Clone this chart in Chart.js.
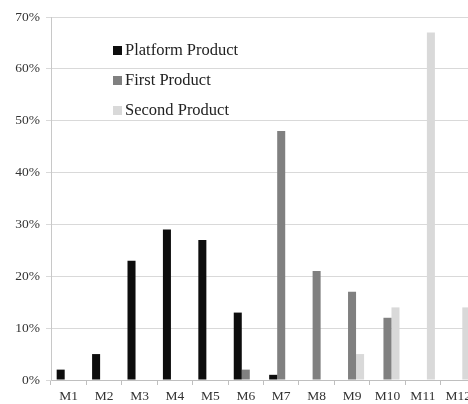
<!DOCTYPE html>
<html>
<head>
<meta charset="utf-8">
<script src="https://cdn.jsdelivr.net/npm/chart.js@4.4.1/dist/chart.umd.min.js"></script>
<style>
    html, body { margin: 0; padding: 0; background: #fff; overflow: hidden; }
    #wrap { width: 476px; height: 404px; position: relative; }
</style>
</head>
<body>
<div id="wrap"><canvas id="salesChart"></canvas></div>
<script>
// Chart data
const months = ['M1', 'M2', 'M3', 'M4', 'M5', 'M6', 'M7', 'M8', 'M9', 'M10', 'M11', 'M12'];
const seriesNames = ['Platform Product', 'First Product', 'Second Product'];
const platformProduct = [2, 5, 23, 29, 27, 13, 1, 0, 0, 0, 0, 0];
const firstProduct = [0, 0, 0, 0, 0, 2, 48, 21, 17, 12, 0, 0];
const secondProduct = [0, 0, 0, 0, 0, 0, 0, 0, 5, 14, 67, 14];
const yTicks = [0, 10, 20, 30, 40, 50, 60, 70];

const serif = "'Liberation Serif', 'Times New Roman', serif";

// Legend drawn inside the plot area
const insideLegend = {
    id: 'insideLegend',
    afterDraw(chart) {
        const ctx = chart.ctx;
        ctx.save();
        ctx.font = '16.5px ' + serif;
        ctx.textBaseline = 'middle';
        chart.data.datasets.forEach((ds, i) => {
            const y = 50 + i * 30;
            ctx.fillStyle = ds.backgroundColor;
            ctx.fillRect(113, y - 4, 9, 9);
            ctx.fillStyle = '#222';
            ctx.fillText(ds.label, 125, y + 1);
        });
        ctx.restore();
    }
};

const ctx = document.getElementById('salesChart').getContext('2d');
new Chart(ctx, {
    type: 'bar',
    data: {
        labels: months,
        datasets: [
            { label: seriesNames[0], data: platformProduct, backgroundColor: '#0d0d0d' },
            { label: seriesNames[1], data: firstProduct, backgroundColor: '#808080' },
            { label: seriesNames[2], data: secondProduct, backgroundColor: '#d9d9d9' }
        ]
    },
    options: {
        responsive: true,
        maintainAspectRatio: false,
        animation: false,
        layout: { padding: { top: 17, right: 0, bottom: 0, left: 0 } },
        datasets: {
            bar: { categoryPercentage: 0.68, barPercentage: 1.0, borderWidth: 0 }
        },
        plugins: {
            legend: { display: false },
            tooltip: { enabled: false }
        },
        scales: {
            x: {
                grid: {
                    display: true,
                    drawOnChartArea: false,
                    tickLength: 5,
                    color: '#bfbfbf'
                },
                border: { color: '#bfbfbf' },
                ticks: {
                    color: '#333',
                    padding: 3,
                    font: { family: serif, size: 13.5 }
                },
                afterFit(scale) { scale.height = 24; }
            },
            y: {
                min: 0,
                max: 70,
                afterBuildTicks(scale) {
                    scale.ticks = yTicks.map(v => ({ value: v }));
                },
                grid: {
                    color: '#d9d9d9',
                    tickLength: 5
                },
                border: { color: '#c8c8c8' },
                ticks: {
                    color: '#333',
                    padding: 6,
                    font: { family: serif, size: 13.5 },
                    callback: function(value) {
                        return value + '%';
                    }
                },
                afterFit(scale) { scale.width = 51; }
            }
        }
    },
    plugins: [insideLegend]
});
</script>
</body>
</html>
